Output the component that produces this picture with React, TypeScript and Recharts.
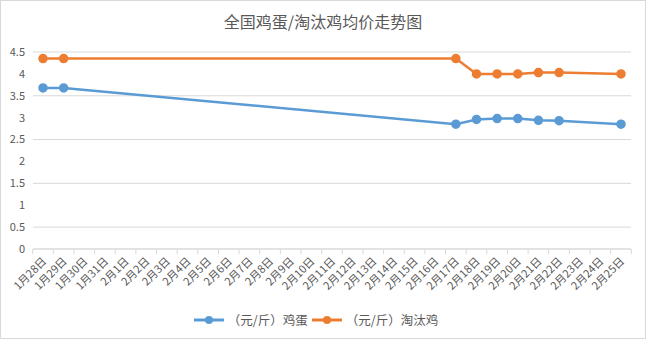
import { LineChart, Line, XAxis, YAxis, CartesianGrid, Legend } from "recharts";

const dates = [
  "1月28日", "1月29日", "1月30日", "1月31日", "2月1日", "2月2日", "2月3日", "2月4日",
  "2月5日", "2月6日", "2月7日", "2月8日", "2月9日", "2月10日", "2月11日", "2月12日",
  "2月13日", "2月14日", "2月15日", "2月16日", "2月17日", "2月18日", "2月19日", "2月20日",
  "2月21日", "2月22日", "2月23日", "2月24日", "2月25日",
];

// null = no quote that day, line is drawn straight across
const eggPrice = [
  3.68, 3.68, null, null, null, null, null, null, null, null, null, null, null, null, null, null,
  null, null, null, null, 2.85, 2.96, 2.98, 2.98, 2.94, 2.93, null, null, 2.85,
];
const henPrice = [
  4.35, 4.35, null, null, null, null, null, null, null, null, null, null, null, null, null, null,
  null, null, null, null, 4.35, 4.0, 4.0, 4.0, 4.03, 4.03, null, null, 4.0,
];
const yTicks = [0, 0.5, 1, 1.5, 2, 2.5, 3, 3.5, 4, 4.5];

const EGG = "（元/斤）鸡蛋";
const HEN = "（元/斤）淘汰鸡";

const data = dates.map((d, i) => ({ date: d, [EGG]: eggPrice[i], [HEN]: henPrice[i] }));

const font = "'Noto Sans CJK SC', 'Microsoft YaHei', sans-serif";
const textColor = "#595959";
const HALF = 10.3; // half of one category slot, for excel-style tick marks between labels

const DateTick = ({ x, y, payload, index }: any) => (
  <g>
    {/* tick marks sit between categories, like excel */}
    <line x1={x + HALF} y1={y - 7} x2={x + HALF} y2={y - 2} stroke="#d9d9d9" />
    {index === 0 && <line x1={x - HALF} y1={y - 7} x2={x - HALF} y2={y - 2} stroke="#d9d9d9" />}
    <text
      x={x + 4}
      y={y + 6}
      transform={`rotate(-45, ${x + 4}, ${y + 6})`}
      textAnchor="end"
      fontSize={11}
      fill={textColor}
      fontFamily={font}
    >
      {payload.value}
    </text>
  </g>
);

export default function App() {
  return (
    <div
      style={{
        position: "absolute",
        left: 0,
        top: 0,
        width: 646,
        height: 339,
        boxSizing: "border-box",
        border: "1px solid #d9d9d9",
        background: "#fff",
        fontFamily: font,
      }}
    >
      <div
        style={{
          position: "absolute",
          top: 8,
          width: "100%",
          textAlign: "center",
          fontSize: 16,
          color: textColor,
        }}
      >
        全国鸡蛋/淘汰鸡均价走势图
      </div>
      <LineChart
        width={644}
        height={337}
        data={data}
        margin={{ top: 51, right: 14, left: 0, bottom: 9 }}
      >
        <CartesianGrid vertical={false} stroke="#d9d9d9" />
        <XAxis
          dataKey="date"
          interval={0}
          tick={<DateTick />}
          tickLine={false}
          height={61}
          stroke="#d9d9d9"
          tickSize={5}
          padding={{ left: 10, right: 10 }}
        />
        <YAxis
          domain={[0, 4.5]}
          ticks={yTicks}
          width={32}
          axisLine={false}
          tickLine={false}
          tick={{ fontSize: 11, fill: textColor, fontFamily: font }}
        />
        <Legend
          verticalAlign="bottom"
          content={() => (
            <div style={{ display: "flex", justifyContent: "center", gap: 4, fontSize: 12.5, color: textColor }}>
              {[
                { name: EGG, color: "#5B9BD5" },
                { name: HEN, color: "#ED7D31" },
              ].map((s) => (
                <span key={s.name} style={{ display: "flex", alignItems: "center" }}>
                  <svg width={30} height={10} style={{ marginRight: 4 }}>
                    <line x1={0} y1={5} x2={30} y2={5} stroke={s.color} strokeWidth={3} />
                    <circle cx={15} cy={5} r={4} fill={s.color} />
                  </svg>
                  {s.name}
                </span>
              ))}
            </div>
          )}
        />
        <Line
          dataKey={EGG}
          stroke="#5B9BD5"
          strokeWidth={2.5}
          dot={{ r: 3.5, fill: "#5B9BD5", stroke: "#5B9BD5" }}
          connectNulls
          isAnimationActive={false}
        />
        <Line
          dataKey={HEN}
          stroke="#ED7D31"
          strokeWidth={2.5}
          dot={{ r: 3.5, fill: "#ED7D31", stroke: "#ED7D31" }}
          connectNulls
          isAnimationActive={false}
        />
      </LineChart>
    </div>
  );
}
